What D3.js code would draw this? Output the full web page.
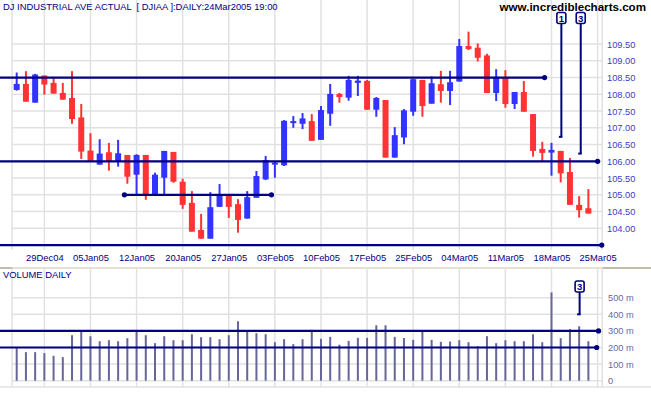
<!DOCTYPE html>
<html><head><meta charset="utf-8">
<script src="https://cdn.jsdelivr.net/npm/d3@7"></script>
<style>
body{margin:0;background:#fff}
svg{display:block;font-family:"Liberation Sans",Arial,sans-serif}
</style>
</head><body>
<svg id="c" width="651" height="395"></svg>
<script>
// ---------- DATA ----------
const dates = ["23Dec04","27Dec04","28Dec04","29Dec04","30Dec04","31Dec04",
"03Jan05","04Jan05","05Jan05","06Jan05","07Jan05","10Jan05","11Jan05","12Jan05","13Jan05","14Jan05","18Jan05","19Jan05","20Jan05","21Jan05","24Jan05","25Jan05","26Jan05","27Jan05","28Jan05","31Jan05",
"01Feb05","02Feb05","03Feb05","04Feb05","07Feb05","08Feb05","09Feb05","10Feb05","11Feb05","14Feb05","15Feb05","16Feb05","17Feb05","18Feb05","22Feb05","23Feb05","24Feb05","25Feb05","28Feb05",
"01Mar05","02Mar05","03Mar05","04Mar05","07Mar05","08Mar05","09Mar05","10Mar05","11Mar05","14Mar05","15Mar05","16Mar05","17Mar05","18Mar05","21Mar05","22Mar05","23Mar05","24Mar05"];
const futureDates = ["25Mar05"];

const open  = [108.13,108.31,107.75,108.56,108.34,108.04,107.89,107.31,106.32,105.90,106.27,106.00,106.19,105.60,106.19,105.02,105.51,106.28,105.39,104.76,103.95,103.69,104.64,104.99,104.72,104.29,104.91,105.46,105.90,105.88,107.15,107.12,107.20,106.64,107.42,108.01,107.90,108.34,108.40,107.54,107.83,106.11,106.71,107.48,108.43,107.72,108.30,108.10,108.38,109.44,109.39,109.16,108.04,108.49,107.71,108.07,107.41,106.37,106.26,106.31,105.68,104.70,104.60];
const high  = [108.65,108.69,108.61,108.56,108.52,108.34,108.69,107.71,106.84,106.66,106.55,106.64,106.19,106.21,106.19,105.66,106.31,106.28,105.48,105.11,104.43,105.08,105.32,104.99,104.87,105.11,105.71,106.16,106.01,107.23,107.35,107.44,107.41,107.65,108.31,108.04,108.55,108.55,108.43,107.92,107.83,107.02,107.56,108.46,108.43,108.53,108.70,108.70,109.65,109.87,109.52,109.21,108.75,108.72,108.07,108.40,107.41,106.58,106.55,106.31,106.10,104.96,105.17];
const low   = [108.11,107.78,107.75,107.99,108.02,107.84,107.12,106.07,106.00,105.90,105.72,105.84,105.33,105.00,104.85,105.02,105.00,105.36,104.58,103.90,103.69,103.69,104.64,104.31,103.87,104.29,104.91,105.44,105.51,105.86,107.00,106.96,106.61,106.64,107.06,107.75,107.81,107.95,107.54,107.33,106.11,106.11,106.51,107.36,107.33,107.72,107.75,107.68,108.38,109.32,108.98,108.04,107.80,107.60,107.56,107.48,106.14,105.99,105.57,105.37,104.70,104.32,104.44];
const close = [108.31,107.78,108.59,108.29,108.02,107.84,107.26,106.29,106.00,106.23,106.00,106.24,105.54,106.19,105.02,105.60,106.31,105.39,104.70,103.90,103.69,104.63,105.01,104.64,104.25,104.93,105.56,106.04,105.96,107.21,107.20,107.28,106.61,107.53,108.01,107.92,108.43,108.41,107.54,107.89,106.11,106.78,107.52,108.45,107.65,108.33,108.10,108.36,109.44,109.35,109.09,108.04,108.52,107.71,108.07,107.48,106.31,106.25,106.34,105.64,104.70,104.54,104.44];
// volume in millions
const volume = [196,172,172,166,150,142,274,298,268,238,244,238,256,298,274,226,268,244,244,280,262,262,250,274,358,298,286,280,232,250,220,250,306,252,264,217,240,258,258,334,334,264,257,246,294,246,234,236,244,232,208,268,226,244,238,238,280,232,532,256,310,328,238];

const tickLabels = ["29Dec04","05Jan05","12Jan05","20Jan05","27Jan05","03Feb05","10Feb05","17Feb05","25Feb05","04Mar05","11Mar05","18Mar05","25Mar05"];
const priceTicks = [104,104.5,105,105.5,106,106.5,107,107.5,108,108.5,109,109.5];
const volTicks = [0,100,200,300,400,500];

// horizontal trend lines (price level, start index or null = left edge, end index)
const trendLevel = [108.5, 106.0, 105.0, 103.5];
const trendStart = [null, null, 11.68, null];
const trendEnd   = [57.25, 63.0, 27.63, 63.45];
const trendDotStart = [false,false,true,false];
// volume lines
const volLevel = [300, 200];
const volEnd   = [63.1, 62.9];
// markers: label, index, price reached / volume reached
const markerLabels = ["1","3"];
const markerIdx = [59.07, 61.17];
const markerPrice = [106.73, 106.23];
const volMarkerLabel = "3", volMarkerIdx = 61.05, volMarkerVal = 400;

// ---------- CHART ----------
const svg = d3.select("#c");
const W = 651;
const navy = "#000080", grid = "#e1e1e1";
const x = d3.scalePoint().domain(dates.concat(futureDates)).range([16.7, 597.6]);
const step = x.step();
const xi = i => x.range()[0] + i * step;
const plotL = x.range()[0] - step/2, plotR = x.range()[1] + step/2;

const y = d3.scaleLinear().domain([104, 109.5]).range([228.3, 44.05]);
const yv = d3.scaleLinear().domain([0, 500]).range([380.7, 297.7]);

// separators / frame
svg.append("line").attr("x1",0).attr("x2",W).attr("y1",268).attr("y2",268).attr("stroke","#e4e0d4").attr("stroke-width",2);
svg.append("line").attr("x1",0).attr("x2",12).attr("y1",268).attr("y2",268).attr("stroke","#b8b09a").attr("stroke-width",1.5);
svg.append("line").attr("x1",603).attr("x2",W).attr("y1",268).attr("y2",268).attr("stroke","#b8b09a").attr("stroke-width",1.5);
svg.append("line").attr("x1",0).attr("x2",W).attr("y1",387).attr("y2",387).attr("stroke","#e2e2e2").attr("stroke-width",1.5);

// grids - price
const gp = svg.append("g");
gp.selectAll(".vg").data(tickLabels).join("line")
  .attr("x1",d=>x(d)).attr("x2",d=>x(d)).attr("y1",0).attr("y2",250)
  .attr("stroke",grid).attr("stroke-width",1.5);
gp.append("line").attr("x1",plotL).attr("x2",plotL).attr("y1",0).attr("y2",250).attr("stroke",grid).attr("stroke-width",1.5);
gp.append("line").attr("x1",plotR).attr("x2",plotR).attr("y1",0).attr("y2",250).attr("stroke",grid).attr("stroke-width",1.5);
gp.selectAll(".hg").data(priceTicks).join("line")
  .attr("x1",plotL).attr("x2",plotR).attr("y1",d=>y(d)).attr("y2",d=>y(d))
  .attr("stroke",grid).attr("stroke-width",1.5);

// grids - volume
const gv = svg.append("g");
gv.selectAll(".vg").data(tickLabels).join("line")
  .attr("x1",d=>x(d)).attr("x2",d=>x(d)).attr("y1",269).attr("y2",387)
  .attr("stroke",grid).attr("stroke-width",1.5);
gv.append("line").attr("x1",plotL).attr("x2",plotL).attr("y1",269).attr("y2",387).attr("stroke",grid).attr("stroke-width",1.5);
gv.append("line").attr("x1",plotR).attr("x2",plotR).attr("y1",269).attr("y2",387).attr("stroke",grid).attr("stroke-width",1.5);
gv.selectAll(".hg").data(volTicks).join("line")
  .attr("x1",plotL).attr("x2",plotR).attr("y1",d=>yv(d)).attr("y2",d=>yv(d))
  .attr("stroke",grid).attr("stroke-width",1.5);

// candles
const candles = dates.map((d,i)=>({d, o:open[i], h:high[i], l:low[i], c:close[i]}));
const cg = svg.append("g");
const col = d => d.c >= d.o ? "#3333ff" : "#ff3333";
cg.selectAll(".w").data(candles).join("line")
  .attr("x1",d=>x(d.d)).attr("x2",d=>x(d.d)).attr("y1",d=>y(d.h)).attr("y2",d=>y(d.l))
  .attr("stroke",col).attr("stroke-width",2);
cg.selectAll(".b").data(candles).join("rect")
  .attr("x",d=>x(d.d)-3).attr("width",6)
  .attr("y",d=>Math.min(y(d.o),y(d.c)))
  .attr("height",d=>Math.max(2,Math.abs(y(d.o)-y(d.c))))
  .attr("fill",col);

// price trend lines
trendLevel.forEach((v,k)=>{
  const x1 = trendStart[k]===null ? 0 : xi(trendStart[k]);
  const x2 = xi(trendEnd[k]);
  svg.append("line").attr("x1",x1).attr("x2",x2).attr("y1",y(v)).attr("y2",y(v))
    .attr("stroke",navy).attr("stroke-width",2.2);
  svg.append("circle").attr("cx",x2).attr("cy",y(v)).attr("r",2.6).attr("fill",navy);
  if (trendDotStart[k]) svg.append("circle").attr("cx",x1).attr("cy",y(v)).attr("r",2.6).attr("fill",navy);
});

// volume bars
svg.append("g").selectAll("rect").data(dates).join("rect")
  .attr("x",(d)=>x(d)-1).attr("width",2)
  .attr("y",(d,i)=>yv(volume[i])).attr("height",(d,i)=>yv(0)-yv(volume[i]))
  .attr("fill","#66669a");

// volume lines
volLevel.forEach((v,k)=>{
  const x2 = xi(volEnd[k]);
  svg.append("line").attr("x1",0).attr("x2",x2).attr("y1",yv(v)).attr("y2",yv(v))
    .attr("stroke",navy).attr("stroke-width",2.2);
  svg.append("circle").attr("cx",x2).attr("cy",yv(v)).attr("r",2.6).attr("fill",navy);
});

// markers
function marker(cx, top, bottom, label){
  const g = svg.append("g");
  g.append("line").attr("x1",cx).attr("x2",cx).attr("y1",top+11).attr("y2",bottom)
    .attr("stroke",navy).attr("stroke-width",2);
  g.append("line").attr("x1",cx-2.5).attr("x2",cx+1).attr("y1",bottom).attr("y2",bottom)
    .attr("stroke",navy).attr("stroke-width",2);
  g.append("rect").attr("x",cx-4.5).attr("y",top).attr("width",9).attr("height",11).attr("rx",2)
    .attr("fill","#fff").attr("stroke",navy).attr("stroke-width",1.6);
  g.append("text").attr("x",cx).attr("y",top+9).attr("text-anchor","middle")
    .attr("font-size","9.5px").attr("font-weight","bold").attr("fill",navy).text(label);
}
markerLabels.forEach((l,k)=>marker(xi(markerIdx[k]), 12.5, y(markerPrice[k]), l));
marker(xi(volMarkerIdx), 281, yv(volMarkerVal), volMarkerLabel);

// axes
const pa = svg.append("g").attr("transform","translate(607,0)")
  .call(d3.axisRight(y).tickValues(priceTicks).tickFormat(d3.format(".2f")).tickSize(0).tickPadding(0));
pa.select(".domain").remove();
pa.selectAll("text").attr("font-size","9.3px").attr("fill","#3c3cc8").attr("font-family","Liberation Sans, Arial, sans-serif");

const va = svg.append("g").attr("transform","translate(608,0)")
  .call(d3.axisRight(yv).tickValues(volTicks).tickFormat(d=>d===0?"0":d+" m").tickSize(0).tickPadding(0));
va.select(".domain").remove();
va.selectAll("text").attr("font-size","9.3px").attr("fill","#6a6a9c").attr("font-family","Liberation Sans, Arial, sans-serif");

const xa = svg.append("g").attr("transform","translate(0,261)")
  .call(d3.axisBottom(x).tickValues(tickLabels).tickSize(0));
xa.select(".domain").remove();
xa.selectAll("text").attr("y",0).attr("dy",null).attr("font-size","9.4px").attr("fill",navy)
  .attr("font-family","Liberation Sans, Arial, sans-serif");

// titles
svg.append("text").attr("x",3).attr("y",10).attr("font-size","9.4px").attr("fill",navy)
  .style("white-space","pre").text("DJ INDUSTRIAL AVE ACTUAL  [ DJIAA ]:DAILY:24Mar2005 19:00");
svg.append("text").attr("x",646).attr("y",10.5).attr("text-anchor","end").attr("font-size","11.6px")
  .attr("font-weight","bold").attr("fill","#000").text("www.incrediblecharts.com");
svg.append("text").attr("x",3).attr("y",277.5).attr("font-size","9.4px").attr("fill",navy)
  .text("VOLUME DAILY");
</script>
</body></html>
